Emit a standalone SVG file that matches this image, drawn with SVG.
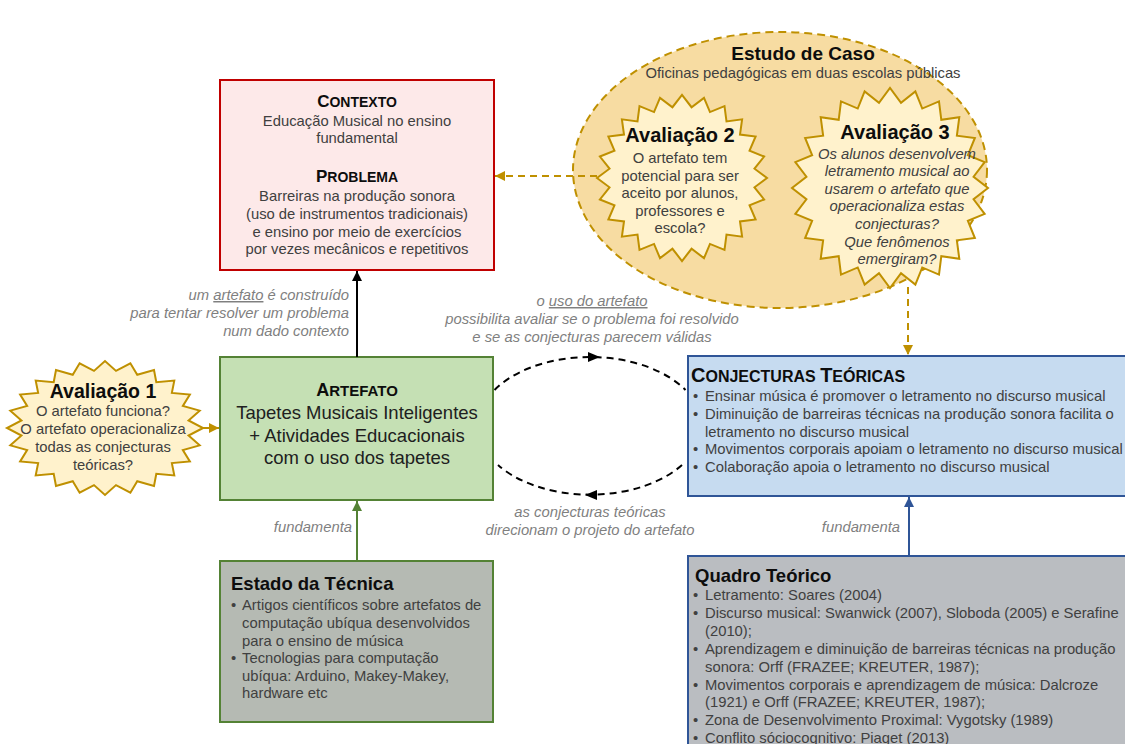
<svg xmlns="http://www.w3.org/2000/svg" width="1125" height="744" viewBox="0 0 1125 744">
<style>
text{font-family:"Liberation Sans",Arial,sans-serif;}
.h{font-weight:bold;fill:#0d0d0d;}
.b{font-size:14.8px;fill:#404040;}
.c{text-anchor:middle;}
.lbl{font-size:14.8px;fill:#7f7f7f;font-style:italic;}
.star{fill:#fff2cc;stroke:#bf9000;stroke-width:2;vector-effect:non-scaling-stroke;}
.dash{fill:none;stroke:#bf9000;stroke-width:2;stroke-dasharray:7 5;}
</style>
<defs>
<marker id="aBlack" markerUnits="userSpaceOnUse" markerWidth="11" markerHeight="10" refX="10" refY="5" orient="auto"><path d="M0,0 L10,5 L0,10 z" fill="#000"/></marker>
<marker id="aGold" markerUnits="userSpaceOnUse" markerWidth="11" markerHeight="10" refX="10" refY="5" orient="auto"><path d="M0,0 L10,5 L0,10 z" fill="#bf9000"/></marker>
<marker id="aGreen" markerUnits="userSpaceOnUse" markerWidth="11" markerHeight="10" refX="10" refY="5" orient="auto"><path d="M0,0 L10,5 L0,10 z" fill="#548235"/></marker>
<marker id="aBlue" markerUnits="userSpaceOnUse" markerWidth="11" markerHeight="10" refX="10" refY="5" orient="auto"><path d="M0,0 L10,5 L0,10 z" fill="#2f5597"/></marker>
</defs>
<rect width="1125" height="744" fill="#fff"/>

<g id="estudo-de-caso">
<ellipse cx="780" cy="170" rx="207" ry="138" fill="#f7dca2" stroke="#bf9000" stroke-width="2" stroke-dasharray="8 5"/>
<text class="h c" x="803" y="60" font-size="19">Estudo de Caso</text>
<text class="b c" x="803" y="78">Oficinas pedagógicas em duas escolas públicas</text>
</g>

<g id="avaliacao2">
<polygon class="star" transform="translate(682,178) scale(85,83)" points="1,0 .8526,.1123 .9659,.2588 .7945,.3291 .866,.5 .6823,.5235 .7071,.7071 .5235,.6823 .5,.866 .3291,.7945 .2588,.9659 .1123,.8526 0,1 -.1123,.8526 -.2588,.9659 -.3291,.7945 -.5,.866 -.5235,.6823 -.7071,.7071 -.6823,.5235 -.866,.5 -.7945,.3291 -.9659,.2588 -.8526,.1123 -1,0 -.8526,-.1123 -.9659,-.2588 -.7945,-.3291 -.866,-.5 -.6823,-.5235 -.7071,-.7071 -.5235,-.6823 -.5,-.866 -.3291,-.7945 -.2588,-.9659 -.1123,-.8526 0,-1 .1123,-.8526 .2588,-.9659 .3291,-.7945 .5,-.866 .5235,-.6823 .7071,-.7071 .6823,-.5235 .866,-.5 .7945,-.3291 .9659,-.2588 .8526,-.1123"/>
<text class="h c" x="680" y="142" font-size="20">Avaliação 2</text>
<text class="b c" x="680" y="163">O artefato tem</text>
<text class="b c" x="680" y="180.5">potencial para ser</text>
<text class="b c" x="680" y="198">aceito por alunos,</text>
<text class="b c" x="680" y="215.5">professores e</text>
<text class="b c" x="680" y="233">escola?</text>
</g>

<g id="avaliacao3">
<polygon class="star" transform="translate(890,188) scale(98,100)" points="1,0 .8526,.1123 .9659,.2588 .7945,.3291 .866,.5 .6823,.5235 .7071,.7071 .5235,.6823 .5,.866 .3291,.7945 .2588,.9659 .1123,.8526 0,1 -.1123,.8526 -.2588,.9659 -.3291,.7945 -.5,.866 -.5235,.6823 -.7071,.7071 -.6823,.5235 -.866,.5 -.7945,.3291 -.9659,.2588 -.8526,.1123 -1,0 -.8526,-.1123 -.9659,-.2588 -.7945,-.3291 -.866,-.5 -.6823,-.5235 -.7071,-.7071 -.5235,-.6823 -.5,-.866 -.3291,-.7945 -.2588,-.9659 -.1123,-.8526 0,-1 .1123,-.8526 .2588,-.9659 .3291,-.7945 .5,-.866 .5235,-.6823 .7071,-.7071 .6823,-.5235 .866,-.5 .7945,-.3291 .9659,-.2588 .8526,-.1123"/>
<text class="h c" x="895" y="139" font-size="20">Avaliação 3</text>
<g font-style="italic">
<text class="b c" x="897" y="158.5">Os alunos desenvolvem</text>
<text class="b c" x="897" y="176">letramento musical ao</text>
<text class="b c" x="897" y="193.5">usarem o artefato que</text>
<text class="b c" x="897" y="211">operacionaliza estas</text>
<text class="b c" x="897" y="229">conjecturas?</text>
<text class="b c" x="897" y="246.5">Que fenômenos</text>
<text class="b c" x="897" y="264">emergiram?</text>
</g>
</g>

<g id="avaliacao1">
<polygon class="star" transform="translate(105,428) scale(98,67)" points="1,0 .8526,.1123 .9659,.2588 .7945,.3291 .866,.5 .6823,.5235 .7071,.7071 .5235,.6823 .5,.866 .3291,.7945 .2588,.9659 .1123,.8526 0,1 -.1123,.8526 -.2588,.9659 -.3291,.7945 -.5,.866 -.5235,.6823 -.7071,.7071 -.6823,.5235 -.866,.5 -.7945,.3291 -.9659,.2588 -.8526,.1123 -1,0 -.8526,-.1123 -.9659,-.2588 -.7945,-.3291 -.866,-.5 -.6823,-.5235 -.7071,-.7071 -.5235,-.6823 -.5,-.866 -.3291,-.7945 -.2588,-.9659 -.1123,-.8526 0,-1 .1123,-.8526 .2588,-.9659 .3291,-.7945 .5,-.866 .5235,-.6823 .7071,-.7071 .6823,-.5235 .866,-.5 .7945,-.3291 .9659,-.2588 .8526,-.1123"/>
<text class="h c" x="103" y="398" font-size="19.5">Avaliação 1</text>
<text class="b c" x="103" y="416">O artefato funciona?</text>
<text class="b c" x="103" y="434">O artefato operacionaliza</text>
<text class="b c" x="103" y="452">todas as conjecturas</text>
<text class="b c" x="103" y="470">teóricas?</text>
</g>

<g id="contexto">
<rect x="220" y="80" width="274" height="190" fill="#fde9e9" stroke="#c00000" stroke-width="2"/>
<text class="h c" x="357" y="107"><tspan font-size="17">C</tspan><tspan font-size="14">ONTEXTO</tspan></text>
<text class="b c" x="357" y="126">Educação Musical no ensino</text>
<text class="b c" x="357" y="143">fundamental</text>
<text class="h c" x="357" y="182"><tspan font-size="17">P</tspan><tspan font-size="14">ROBLEMA</tspan></text>
<text class="b c" x="357" y="201">Barreiras na produção sonora</text>
<text class="b c" x="357" y="219">(uso de instrumentos tradicionais)</text>
<text class="b c" x="357" y="237">e ensino por meio de exercícios</text>
<text class="b c" x="357" y="254">por vezes mecânicos e repetitivos</text>
</g>

<g id="artefato">
<rect x="220" y="357" width="273" height="143" fill="#c5e0b4" stroke="#548235" stroke-width="2"/>
<text class="h c" x="357" y="396"><tspan font-size="18">A</tspan><tspan font-size="15">RTEFATO</tspan></text>
<text class="c" x="357" y="419" font-size="18.5" fill="#202020">Tapetes Musicais Inteligentes</text>
<text class="c" x="357" y="441.5" font-size="18.5" fill="#202020">+ Atividades Educacionais</text>
<text class="c" x="357" y="464" font-size="18.5" fill="#202020">com o uso dos tapetes</text>
</g>

<g id="conjecturas">
<rect x="688" y="356" width="450" height="140" fill="#c6dbf0" stroke="#2f5597" stroke-width="2"/>
<text class="h" x="691" y="382"><tspan font-size="20">C</tspan><tspan font-size="16">ONJECTURAS </tspan><tspan font-size="20">T</tspan><tspan font-size="16">EÓRICAS</tspan></text>
<g class="b">
<text x="693" y="401">•</text><text x="705" y="401">Ensinar música é promover o letramento no discurso musical</text>
<text x="693" y="419">•</text><text x="705" y="419">Diminuição de barreiras técnicas na produção sonora facilita o</text>
<text x="705" y="436.5">letramento no discurso musical</text>
<text x="693" y="454">•</text><text x="705" y="454">Movimentos corporais apoiam o letramento no discurso musical</text>
<text x="693" y="472">•</text><text x="705" y="472">Colaboração apoia o letramento no discurso musical</text>
</g>
</g>

<g id="estado-da-tecnica">
<rect x="220" y="561" width="273" height="161" fill="#b5bab3" stroke="#548235" stroke-width="2"/>
<text class="h" x="231" y="590" font-size="18.5">Estado da Técnica</text>
<g class="b">
<text x="231" y="610">•</text><text x="242" y="610">Artigos científicos sobre artefatos de</text>
<text x="242" y="628">computação ubíqua desenvolvidos</text>
<text x="242" y="645.5">para o ensino de música</text>
<text x="231" y="663">•</text><text x="242" y="663">Tecnologias para computação</text>
<text x="242" y="681">ubíqua: Arduino, Makey-Makey,</text>
<text x="242" y="698">hardware etc</text>
</g>
</g>

<g id="quadro-teorico">
<rect x="688" y="556" width="450" height="200" fill="#babdc1" stroke="#2f5597" stroke-width="2"/>
<text class="h" x="695" y="582" font-size="18.5">Quadro Teórico</text>
<g class="b">
<text x="693" y="600">•</text><text x="705" y="600">Letramento: Soares (2004)</text>
<text x="693" y="618">•</text><text x="705" y="618">Discurso musical: Swanwick (2007), Sloboda (2005) e Serafine</text>
<text x="705" y="636">(2010);</text>
<text x="693" y="654">•</text><text x="705" y="654">Aprendizagem e diminuição de barreiras técnicas na produção</text>
<text x="705" y="672">sonora: Orff (FRAZEE; KREUTER, 1987);</text>
<text x="693" y="690">•</text><text x="705" y="690">Movimentos corporais e aprendizagem de música: Dalcroze</text>
<text x="705" y="707">(1921) e Orff (FRAZEE; KREUTER, 1987);</text>
<text x="693" y="725">•</text><text x="705" y="725">Zona de Desenvolvimento Proximal: Vygotsky (1989)</text>
<text x="693" y="743">•</text><text x="705" y="743">Conflito sóciocognitivo: Piaget (2013)</text>
</g>
</g>

<g id="connectors">
<path d="M357,357 L357,271" stroke="#000" stroke-width="2" fill="none" marker-end="url(#aBlack)"/>
<path d="M357,561 L357,501" stroke="#548235" stroke-width="2" fill="none" marker-end="url(#aGreen)"/>
<path d="M909,556 L909,497" stroke="#2f5597" stroke-width="2" fill="none" marker-end="url(#aBlue)"/>
<path class="dash" d="M597,176 L495,176" marker-end="url(#aGold)"/>
<path class="dash" d="M908,287 L908,355" marker-end="url(#aGold)"/>
<path d="M203,428 L219,428" stroke="#bf9000" stroke-width="2" fill="none" marker-end="url(#aGold)"/>
<path d="M494.5,390 A112,69 0 0 1 685.5,390" fill="none" stroke="#000" stroke-width="2" stroke-dasharray="7 5"/>
<path d="M682,465 A112,69 0 0 1 498,465" fill="none" stroke="#000" stroke-width="2" stroke-dasharray="7 5"/>
<polygon points="600,357 588,352 588,362" fill="#000"/>
<polygon points="585,495 597,490 597,500" fill="#000"/>
</g>

<g id="labels">
<text class="lbl" x="349" y="300" text-anchor="end">um <tspan text-decoration="underline">artefato</tspan> é construído</text>
<text class="lbl" x="349" y="318" text-anchor="end">para tentar resolver um problema</text>
<text class="lbl" x="349" y="336" text-anchor="end">num dado contexto</text>
<text class="lbl c" x="592" y="306">o <tspan text-decoration="underline">uso do artefato</tspan></text>
<text class="lbl c" x="592" y="324">possibilita avaliar se o problema foi resolvido</text>
<text class="lbl c" x="592" y="342">e se as conjecturas parecem válidas</text>
<text class="lbl c" x="590" y="517">as conjecturas teóricas</text>
<text class="lbl c" x="590" y="535">direcionam o projeto do artefato</text>
<text class="lbl" x="352" y="532" text-anchor="end">fundamenta</text>
<text class="lbl" x="900" y="532" text-anchor="end">fundamenta</text>
</g>
</svg>
